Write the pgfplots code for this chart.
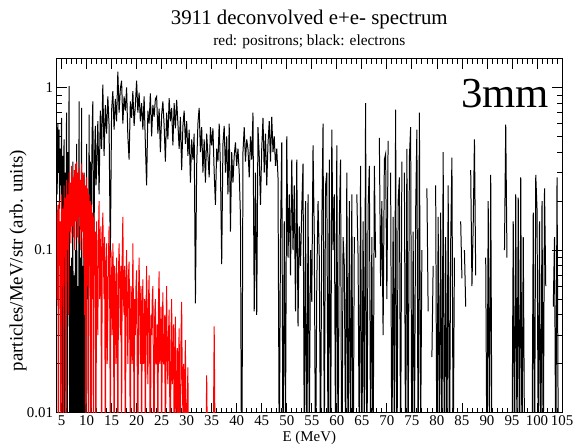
\documentclass[border=0pt]{standalone}
\usepackage{fontspec}
\setmainfont{Liberation Serif}
\usepackage{pgfplots}
\pgfplotsset{compat=1.18}
\usepackage{pgfplotstable}

\pgfplotstableread{
E v
4.000 0.45
4.125 0.22
4.250 0.60
4.375 0.30
4.500 0.55
4.625 0.18
4.750 0.42
4.875 0.25
5.000 0.65
5.125 0.004
5.250 0.38
5.375 0.12
5.500 0.48
5.625 0.003
5.750 0.30
5.875 0.09
6.000 0.70
6.125 0.002
6.250 0.40
6.375 0.05
6.500 1.02
6.625 0.003
6.750 0.08
6.875 0.002
7.000 0.09
7.125 0.004
7.250 0.35
7.375 0.003
7.500 0.07
7.625 0.002
7.750 0.10
7.875 0.003
8.000 0.45
8.125 0.004
8.250 0.06
8.375 0.002
8.500 0.82
8.625 0.003
8.750 0.09
8.875 0.004
9.000 0.75
9.125 0.002
9.250 0.08
9.375 0.003
9.500 0.30
9.625 0.004
9.750 0.06
9.875 0.003
10.000 0.45
10.125 0.05
10.250 0.20
10.375 0.004
10.500 0.68
10.625 0.10
10.750 0.35
10.875 0.005
11.000 0.28
11.125 0.55
11.250 0.82
11.375 0.20
11.500 0.12
11.625 0.40
11.750 0.58
11.875 0.25
12.000 0.30
12.25 0.62
12.50 0.22
12.75 0.72
13.00 0.42
13.25 1.04
13.50 0.38
13.75 0.78
14.00 0.52
14.25 0.88
14.50 0.58
14.75 0.09
15.00 0.72
15.25 0.95
15.50 0.55
15.75 0.85
16.00 0.62
16.25 1.25
16.50 0.70
16.75 0.98
17.00 1.10
17.25 0.60
17.50 0.88
17.75 0.72
18.00 1.00
18.25 0.50
18.50 0.36
18.75 0.82
19.00 0.65
19.25 0.95
19.50 0.58
19.75 0.78
20.00 1.10
20.25 0.70
20.50 0.93
20.75 0.62
21.00 0.80
21.25 0.55
21.50 0.88
21.75 0.45
22.00 0.25
22.25 0.72
22.50 0.60
22.75 0.92
23.00 0.50
23.25 0.78
23.50 0.66
23.75 0.85
24.00 0.88
24.25 0.52
24.50 0.74
24.75 0.40
25.00 0.68
25.25 0.82
25.50 0.58
25.75 0.35
26.00 0.70
26.25 0.48
26.50 0.86
26.75 0.62
27.00 0.75
27.25 0.44
27.50 0.80
27.75 0.56
28.00 0.84
28.25 0.60
28.50 0.42
28.75 0.66
29.00 0.31
29.25 0.58
29.50 0.72
29.75 0.45
30.00 0.62
30.25 0.38
30.50 0.55
30.75 0.26
31.00 0.48
31.25 0.36
31.50 0.52
31.75 0.047
32.00 0.33
32.25 0.60
32.50 0.75
32.75 0.40
33.00 0.57
33.25 0.30
33.50 0.48
33.75 0.26
34.00 0.52
34.25 0.38
34.50 0.28
34.75 0.57
35.00 0.44
35.25 0.56
35.50 0.30
35.75 0.19
36.00 0.42
36.25 0.35
36.50 0.60
36.75 0.32
37.00 0.082
37.25 0.45
37.50 0.58
37.75 0.30
38.00 0.50
38.25 0.22
38.50 0.60
38.75 0.13
39.00 0.40
39.25 0.26
39.50 0.38
39.75 0.46
40.00 0.33
40.25 0.42
40.50 0.30
40.75 0.16
41.00 0.002
41.25 0.40
41.50 0.57
41.75 0.35
42.00 0.48
42.25 0.42
42.50 0.28
42.75 0.50
43.00 0.36
43.25 0.70
43.50 0.042
43.75 0.30
44.00 0.040
44.25 0.57
44.50 0.38
44.75 0.19
45.00 0.42
45.25 0.65
45.50 0.30
45.75 0.52
46.00 0.25
46.25 0.45
46.50 0.62
46.75 0.35
47.00 0.66
47.25 0.40
47.50 0.50
47.75 0.33
48.00 0.42
48.25 0.28
48.50 0.005
48.75 0.12
49.00 0.46
49.25 0.004
49.50 0.15
49.75 0.008
50.00 0.50
50.25 0.09
50.50 0.22
50.75 0.07
51.00 0.36
51.25 0.10
51.50 0.25
51.75 0.042
52.00 0.36
52.25 0.034
52.50 0.14
52.75 0.08
53.00 0.18
53.25 0.34
53.50 0.006
53.75 0.20
54.00 0.003
54.25 0.22
54.50 0.007
54.75 0.10
55.00 0.048
55.25 0.44
55.50 0.12
55.75 0.004
56.00 0.062
56.25 0.20
56.50 0.09
56.75 0.005
57.00 0.14
57.25 0.60
57.50 0.006
57.75 0.25
58.00 0.30
58.25 0.005
58.50 0.36
58.75 0.003
59.00 0.55
59.25 0.10
59.50 0.22
59.75 0.006
60.00 0.44
60.25 0.004
60.50 0.15
60.75 0.36
61.00 0.002
61.25 0.12
61.50 0.08
61.75 0.006
62.00 0.30
62.25 0.004
62.50 0.20
62.75 0.005
63.00 0.22
63.25 0.003
63.50 0.12
63.75 nan
64.00 0.22
64.25 0.09
64.50 0.005
64.75 0.33
65.00 0.004
65.25 0.15
65.50 0.006
65.75 0.80
66.00 0.003
66.25 0.18
66.50 0.33
66.75 0.005
67.00 0.12
67.25 0.004
67.50 0.33
67.75 0.09
68.00 nan
68.50 0.49
68.75 0.06
69.00 0.20
69.25 0.03
69.50 0.36
69.75 0.39
70.00 0.05
70.25 0.47
70.50 nan
70.75 0.30
71.00 0.004
71.25 0.16
71.50 0.006
71.75 0.73
72.00 0.003
72.25 0.20
72.50 0.28
72.75 0.005
73.00 0.35
73.25 nan
73.50 0.30
73.75 0.004
74.00 0.42
74.25 0.005
74.50 0.37
74.75 0.57
75.00 0.003
75.25 0.13
75.50 0.006
75.75 0.17
76.00 0.55
76.25 0.004
76.50 0.70
76.75 0.007
77.00 0.10
77.25 nan
78.00 0.24
78.25 0.042
78.50 nan
79.00 0.022
79.25 0.08
79.50 nan
79.75 0.25
80.00 0.004
80.25 0.16
80.50 0.005
80.75 0.17
81.00 0.005
81.25 0.40
81.50 0.003
81.75 0.12
82.00 0.006
82.25 0.25
82.50 0.004
82.75 0.11
83.00 0.37
83.25 0.005
83.50 0.09
83.75 nan
84.75 0.15
85.00 0.067
85.25 nan
85.50 0.10
85.75 0.045
86.00 nan
86.75 0.31
87.00 0.06
87.25 0.14
87.50 0.48
87.75 0.07
88.00 nan
89.75 0.09
90.00 0.004
90.25 0.20
90.50 0.006
90.75 0.29
91.00 0.005
91.25 nan
93.50 0.10
93.75 0.59
94.00 0.09
94.25 nan
95.00 0.005
95.25 0.15
95.50 0.004
95.75 0.22
96.00 0.006
96.25 0.21
96.50 0.003
96.75 0.28
97.00 0.005
97.25 0.12
97.50 0.007
97.75 nan
99.00 0.005
99.25 0.17
99.50 0.004
99.75 0.29
100.00 0.18
100.25 0.006
100.50 0.15
100.75 0.003
101.00 0.20
101.25 0.005
101.50 0.24
101.75 0.06
102.00 nan
103.25 0.045
103.50 0.12
103.75 0.004
104.00 0.28
104.25 0.006
104.50 nan
}\electrons

\pgfplotstableread{
E v
4.000 0.17
4.125 0.05
4.250 0.19
4.375 0.003
4.500 0.20
4.625 0.08
4.750 0.15
4.875 0.004
5.000 0.22
5.125 0.06
5.250 0.18
5.375 0.003
5.500 0.25
5.625 0.09
5.750 0.21
5.875 0.005
6.000 0.27
6.125 0.10
6.250 0.22
6.375 0.04
6.500 0.30
6.625 0.13
6.750 0.26
6.875 0.11
7.000 0.33
7.125 0.14
7.250 0.28
7.375 0.12
7.500 0.31
7.625 0.10
7.750 0.34
7.875 0.15
8.000 0.35
8.125 0.12
8.250 0.30
8.375 0.11
8.500 0.32
8.625 0.16
8.750 0.27
8.875 0.10
9.000 0.34
9.125 0.13
9.250 0.30
9.375 0.09
9.500 0.29
9.625 0.04
9.750 0.25
9.875 0.003
10.000 0.28
10.125 0.06
10.250 0.24
10.375 0.004
10.500 0.22
10.625 0.08
10.750 0.20
10.875 0.003
11.000 0.19
11.125 0.05
11.250 0.17
11.375 0.004
11.500 0.16
11.625 0.07
11.750 0.13
11.875 0.003
12.000 0.15
12.125 0.06
12.250 0.03
12.375 0.12
12.500 0.20
12.625 0.05
12.750 0.08
12.875 0.14
13.000 0.004
13.125 0.10
13.250 0.17
13.375 0.09
13.500 0.05
13.625 0.12
13.750 0.003
13.875 0.07
14.000 0.11
14.125 0.02
14.250 0.04
14.375 0.09
14.500 0.14
14.625 0.05
14.750 0.006
14.875 0.10
15.000 0.06
15.125 0.03
15.250 0.11
15.375 0.07
15.500 0.003
15.625 0.08
15.750 0.05
15.875 0.02
16.000 0.09
16.125 0.04
16.250 0.005
16.375 0.07
16.500 0.11
16.625 0.06
16.750 0.03
16.875 0.08
17.000 0.007
17.125 0.09
17.250 0.16
17.375 0.05
17.500 0.04
17.625 0.08
17.750 0.002
17.875 0.06
18.000 0.10
18.125 0.04
18.250 0.02
18.375 0.07
18.500 0.085
18.625 0.03
18.750 0.004
18.875 0.06
19.000 0.05
19.125 0.02
19.250 0.11
19.375 0.04
19.500 0.006
19.625 0.05
19.750 0.03
19.875 0.06
20.000 0.075
20.125 0.02
20.250 0.003
20.375 0.05
20.500 0.09
20.625 0.04
20.750 0.02
20.875 0.06
21.000 0.005
21.125 0.04
21.250 0.066
21.375 0.02
21.500 0.03
21.625 0.05
21.750 0.004
21.875 0.04
22.000 0.08
22.125 0.03
22.250 0.015
22.375 0.05
22.500 0.07
22.625 0.02
22.750 0.003
22.875 0.04
23.000 0.03
23.125 0.05
23.250 0.06
23.375 0.015
23.500 0.005
23.625 0.04
23.750 0.05
23.875 0.02
24.000 0.02
24.125 0.035
24.250 0.004
24.375 0.05
24.500 0.074
24.625 0.02
24.750 0.03
24.875 0.045
25.000 0.006
25.125 0.03
25.250 0.055
25.375 0.02
25.500 0.02
25.625 0.04
25.750 0.003
25.875 0.03
26.000 0.06
26.125 0.02
26.250 0.015
26.375 0.03
26.500 0.043
26.625 0.012
26.750 0.005
26.875 0.03
27.000 0.05
27.125 0.015
27.250 0.02
27.375 0.035
27.500 0.004
27.625 0.02
27.750 0.039
27.875 0.01
28.000 0.012
28.125 0.025
28.250 0.003
28.375 0.02
28.500 0.033
28.625 0.008
28.750 0.006
28.875 0.03
29.000 0.048
29.125 0.015
29.250 0.01
29.375 0.02
29.500 0.004
29.625 0.015
29.750 0.028
29.875 0.006
30.000 0.005
30.125 0.012
30.250 0.019
30.375 0.004
30.500 0.003
33.75 0.003
34.00 0.017
34.25 0.003
35.25 0.003
35.50 0.034
35.75 0.003
}\positrons

\begin{document}
\begin{tikzpicture}
\begin{axis}[
  name=ax,
  scale only axis,
  width=507bp, height=355bp,
  xmin=4, xmax=105,
  ymode=log, ymin=0.01, ymax=1.5,
  xtick={5,10,...,105},
  minor x tick num=4,
  ytick={0.01,0.1,1},
  yticklabels={0.01,0.1,1},
  minor ytick={0.02,0.03,0.04,0.05,0.06,0.07,0.08,0.09,0.2,0.3,0.4,0.5,0.6,0.7,0.8,0.9},
  tick align=inside,
  major tick length=10bp,
  minor tick length=5bp,
  every tick/.style={black, line width=0.8bp},
  axis line style={line width=0.9bp},
  /pgf/number format/assume math mode=true,
  tick label style={font=\fontsize{15}{17}\selectfont},
  xticklabel style={yshift=1bp},
  xlabel={E (MeV)},
  ylabel={particles/MeV/str (arb. units)},
  xlabel style={font=\fontsize{15}{17}\selectfont, at={(axis description cs:0.5,0)}, anchor=base, yshift=-28.5bp},
  ylabel style={font=\fontsize{19}{22}\selectfont, at={(axis description cs:-0.076,0.43)}, anchor=center},
  unbounded coords=jump,
  clip=true,
]
\addplot[black, line width=1bp] table[x=E, y=v] {\electrons};
\addplot[red, line width=1bp] table[x=E, y=v] {\positrons};
\node[anchor=base east, font=\fontsize{43}{48}\selectfont] at (rel axis cs:0.981,0.862) {3mm};
\end{axis}
\node[anchor=base, font=\fontsize{21}{25}\selectfont] at ([yshift=34bp]ax.north) {3911 deconvolved e+e- spectrum};
\node[anchor=base, font=\fontsize{15.5}{18}\selectfont] at ([yshift=13bp]ax.north) {red: positrons; black: electrons};
\pgfresetboundingbox
\path ([xshift=-56.7bp,yshift=-32bp]ax.south west) rectangle ([xshift=11bp,yshift=59bp]ax.north east);
\end{tikzpicture}
\end{document}
